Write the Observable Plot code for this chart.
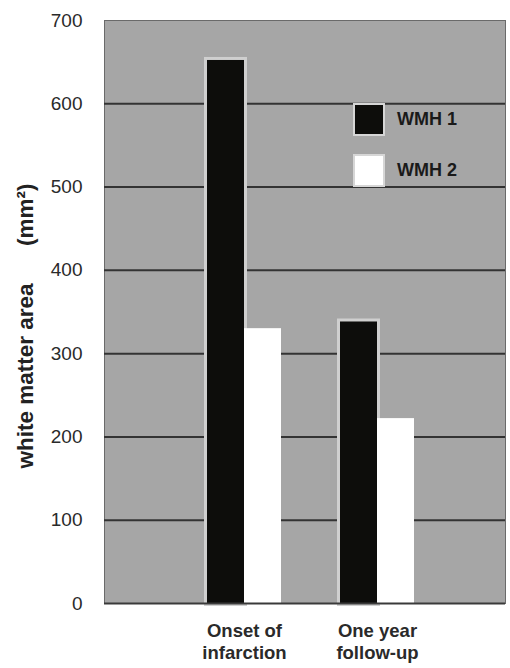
<!DOCTYPE html>
<html>
<head>
<meta charset="utf-8">
<script src="https://cdn.jsdelivr.net/npm/d3@7"></script>
<script src="https://cdn.jsdelivr.net/npm/@observablehq/plot@0.6"></script>
<style>
  body { margin: 0; background: #fff; font-family: "Liberation Sans", Arial, sans-serif; }
  #wrap { position: relative; width: 510px; height: 668px; }
  .legend { position: absolute; left: 353px; top: 102px; }
  .legend .row { display: flex; align-items: center; height: 35px; margin-bottom: 16px; }
  .legend .sw { width: 32px; height: 33px; box-sizing: border-box; border: 2px solid #d6d6d6; margin-right: 12px; }
  .legend .lab { font: bold 18px "Liberation Sans", Arial, sans-serif; color: #1a1a1a; }
</style>
</head>
<body>
<div id="wrap"></div>
<script>
const groups = ["Onset of infarction", "One year follow-up"];
const groupLabels = ["Onset of\ninfarction", "One year\nfollow-up"];
const series = ["WMH 1", "WMH 2"];
const wmh1 = [652, 338];
const wmh2 = [330, 222];
const yTicks = [0, 100, 200, 300, 400, 500, 600, 700];
const colors = {"WMH 1": "#0d0d0b", "WMH 2": "#ffffff"};

const rows1 = groups.map((g, i) => ({group: g, series: series[0], value: wmh1[i]}));
const rows2 = groups.map((g, i) => ({group: g, series: series[1], value: wmh2[i]}));

const chart = Plot.plot({
  width: 510,
  height: 668,
  marginLeft: 104,
  marginRight: 5,
  marginTop: 20,
  marginBottom: 65,
  style: {fontFamily: "Liberation Sans, Arial, sans-serif", background: "#fff", color: "#2a2a2a"},
  x: {domain: groups, paddingInner: 0.444, paddingOuter: 0, insetLeft: 103, insetRight: 90.5},
  y: {domain: [0, 700]},
  marks: [
    Plot.frame({fill: "#a6a6a6", stroke: "#6a6a6a", strokeWidth: 1}),
    Plot.gridY(yTicks.filter(d => d > 0 && d < 700), {stroke: "#333", strokeOpacity: 1, strokeWidth: 2}),
    Plot.barY(rows1, {x: "group", y: "value", insetRight: 37, fill: "none", stroke: "#cfcfcf", strokeWidth: 6}),
    Plot.barY(rows1, {x: "group", y: "value", insetRight: 37, fill: colors["WMH 1"]}),
    Plot.barY(rows2, {x: "group", y: "value", insetLeft: 37, fill: colors["WMH 2"]}),
    Plot.ruleY([0], {stroke: "#3a3a3a", strokeWidth: 2}),
    Plot.axisY({ticks: yTicks, tickSize: 0, tickPadding: 22, fontSize: 19, label: null}),
    Plot.axisX({tickSize: 0, tickPadding: 17, fontSize: 18.5, fontWeight: "bold", lineHeight: 1.22, label: null,
      tickFormat: d => groupLabels[groups.indexOf(d)]}),
    Plot.text(["white matter area\u00a0\u00a0\u00a0\u00a0\u00a0\u00a0(mm²)"], {
      frameAnchor: "left", textAnchor: "middle", dx: -79, rotate: -90, dy: 14, fontSize: 22.5, fontWeight: "bold", fill: "#222"
    })
  ]
});

const wrap = document.getElementById("wrap");
wrap.appendChild(chart);

const legend = document.createElement("div");
legend.className = "legend";
series.forEach(s => {
  const row = document.createElement("div");
  row.className = "row";
  const sw = document.createElement("div");
  sw.className = "sw";
  sw.style.background = colors[s];
  const lab = document.createElement("span");
  lab.className = "lab";
  lab.textContent = s;
  row.appendChild(sw);
  row.appendChild(lab);
  legend.appendChild(row);
});
wrap.appendChild(legend);
</script>
</body>
</html>
